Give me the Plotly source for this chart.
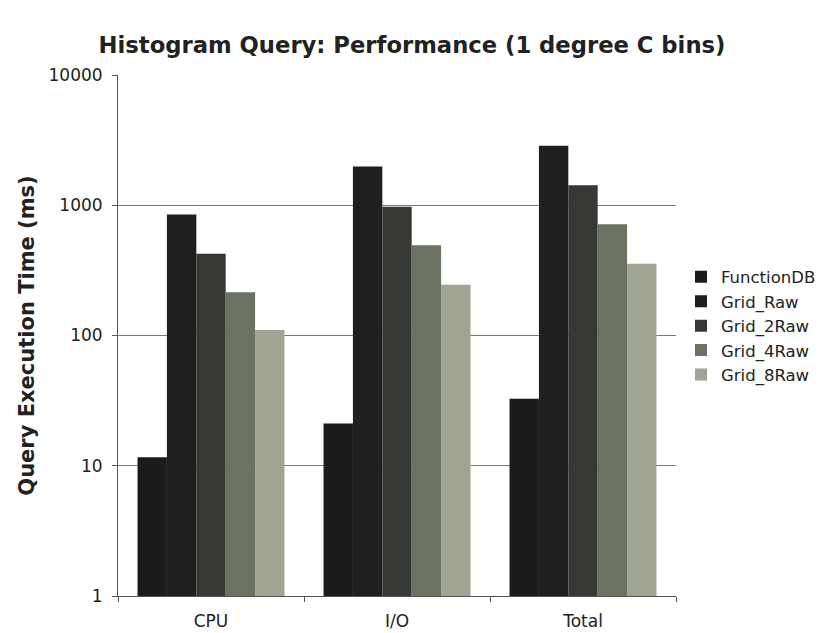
import plotly.graph_objects as go

categories = ["CPU", "I/O", "Total"]
series_names = ["FunctionDB", "Grid_Raw", "Grid_2Raw", "Grid_4Raw", "Grid_8Raw"]
function_db = [11.6, 21.1, 32.7]
grid_raw = [848, 1980, 2858]
grid_2raw = [425, 975, 1425]
grid_4raw = [215, 492, 714]
grid_8raw = [110, 245, 356]
values = [function_db, grid_raw, grid_2raw, grid_4raw, grid_8raw]
colors = ["#1b1b1b", "#1f1f1f", "#363933", "#6b7262", "#9fa493"]
y_ticks = [1, 10, 100, 1000, 10000]
y_tick_labels = ["1", "10", "100", "1000", "10000"]

fig = go.Figure()
for name, vals, col in zip(series_names, values, colors):
    fig.add_trace(go.Bar(x=categories, y=vals, name=name, marker_color=col,
                         marker_line_width=0))

font_family = "DejaVu Sans, Verdana, sans-serif"
fig.update_layout(
    width=824, height=633,
    margin=dict(l=118, r=148, t=75, b=37),
    paper_bgcolor="white", plot_bgcolor="white",
    barmode="group", bargap=0.21, bargroupgap=0,
    font=dict(family=font_family, size=17, color="#222"),
    title=dict(text="<b>Histogram Query: Performance (1 degree C bins)</b>",
               x=0.5, xanchor="center", y=1 - 45 / 633, yanchor="middle",
               font=dict(size=22.7, color="#222", family=font_family)),
    legend=dict(xref="container", yref="container",
                x=681 / 824, xanchor="left", y=1 - 326 / 633, yanchor="middle",
                font=dict(size=16.5, color="#222"), tracegroupgap=0,
                itemwidth=30, bgcolor="rgba(0,0,0,0)"),
    showlegend=True,
)
fig.update_xaxes(showline=True, linecolor="#555", linewidth=1,
                 ticks="outside", tickson="boundaries", ticklen=5,
                 tickcolor="#555", showgrid=False, automargin=False,
                 ticklabelstandoff=10,
                 tickfont=dict(size=17, color="#222"))
fig.update_yaxes(type="log", range=[0, 4], tickvals=y_ticks, ticktext=y_tick_labels,
                 showline=True, linecolor="#555", linewidth=1,
                 ticks="outside", ticklen=5, tickcolor="#555",
                 showgrid=True, gridcolor="#777", gridwidth=1,
                 automargin=False, zeroline=False, ticklabelstandoff=6,
                 tickfont=dict(size=17, color="#222"),
                 title=dict(text="<b>Query Execution Time (ms)</b>", standoff=8,
                            font=dict(size=21, color="#222")))

fig.write_html("out.html")
